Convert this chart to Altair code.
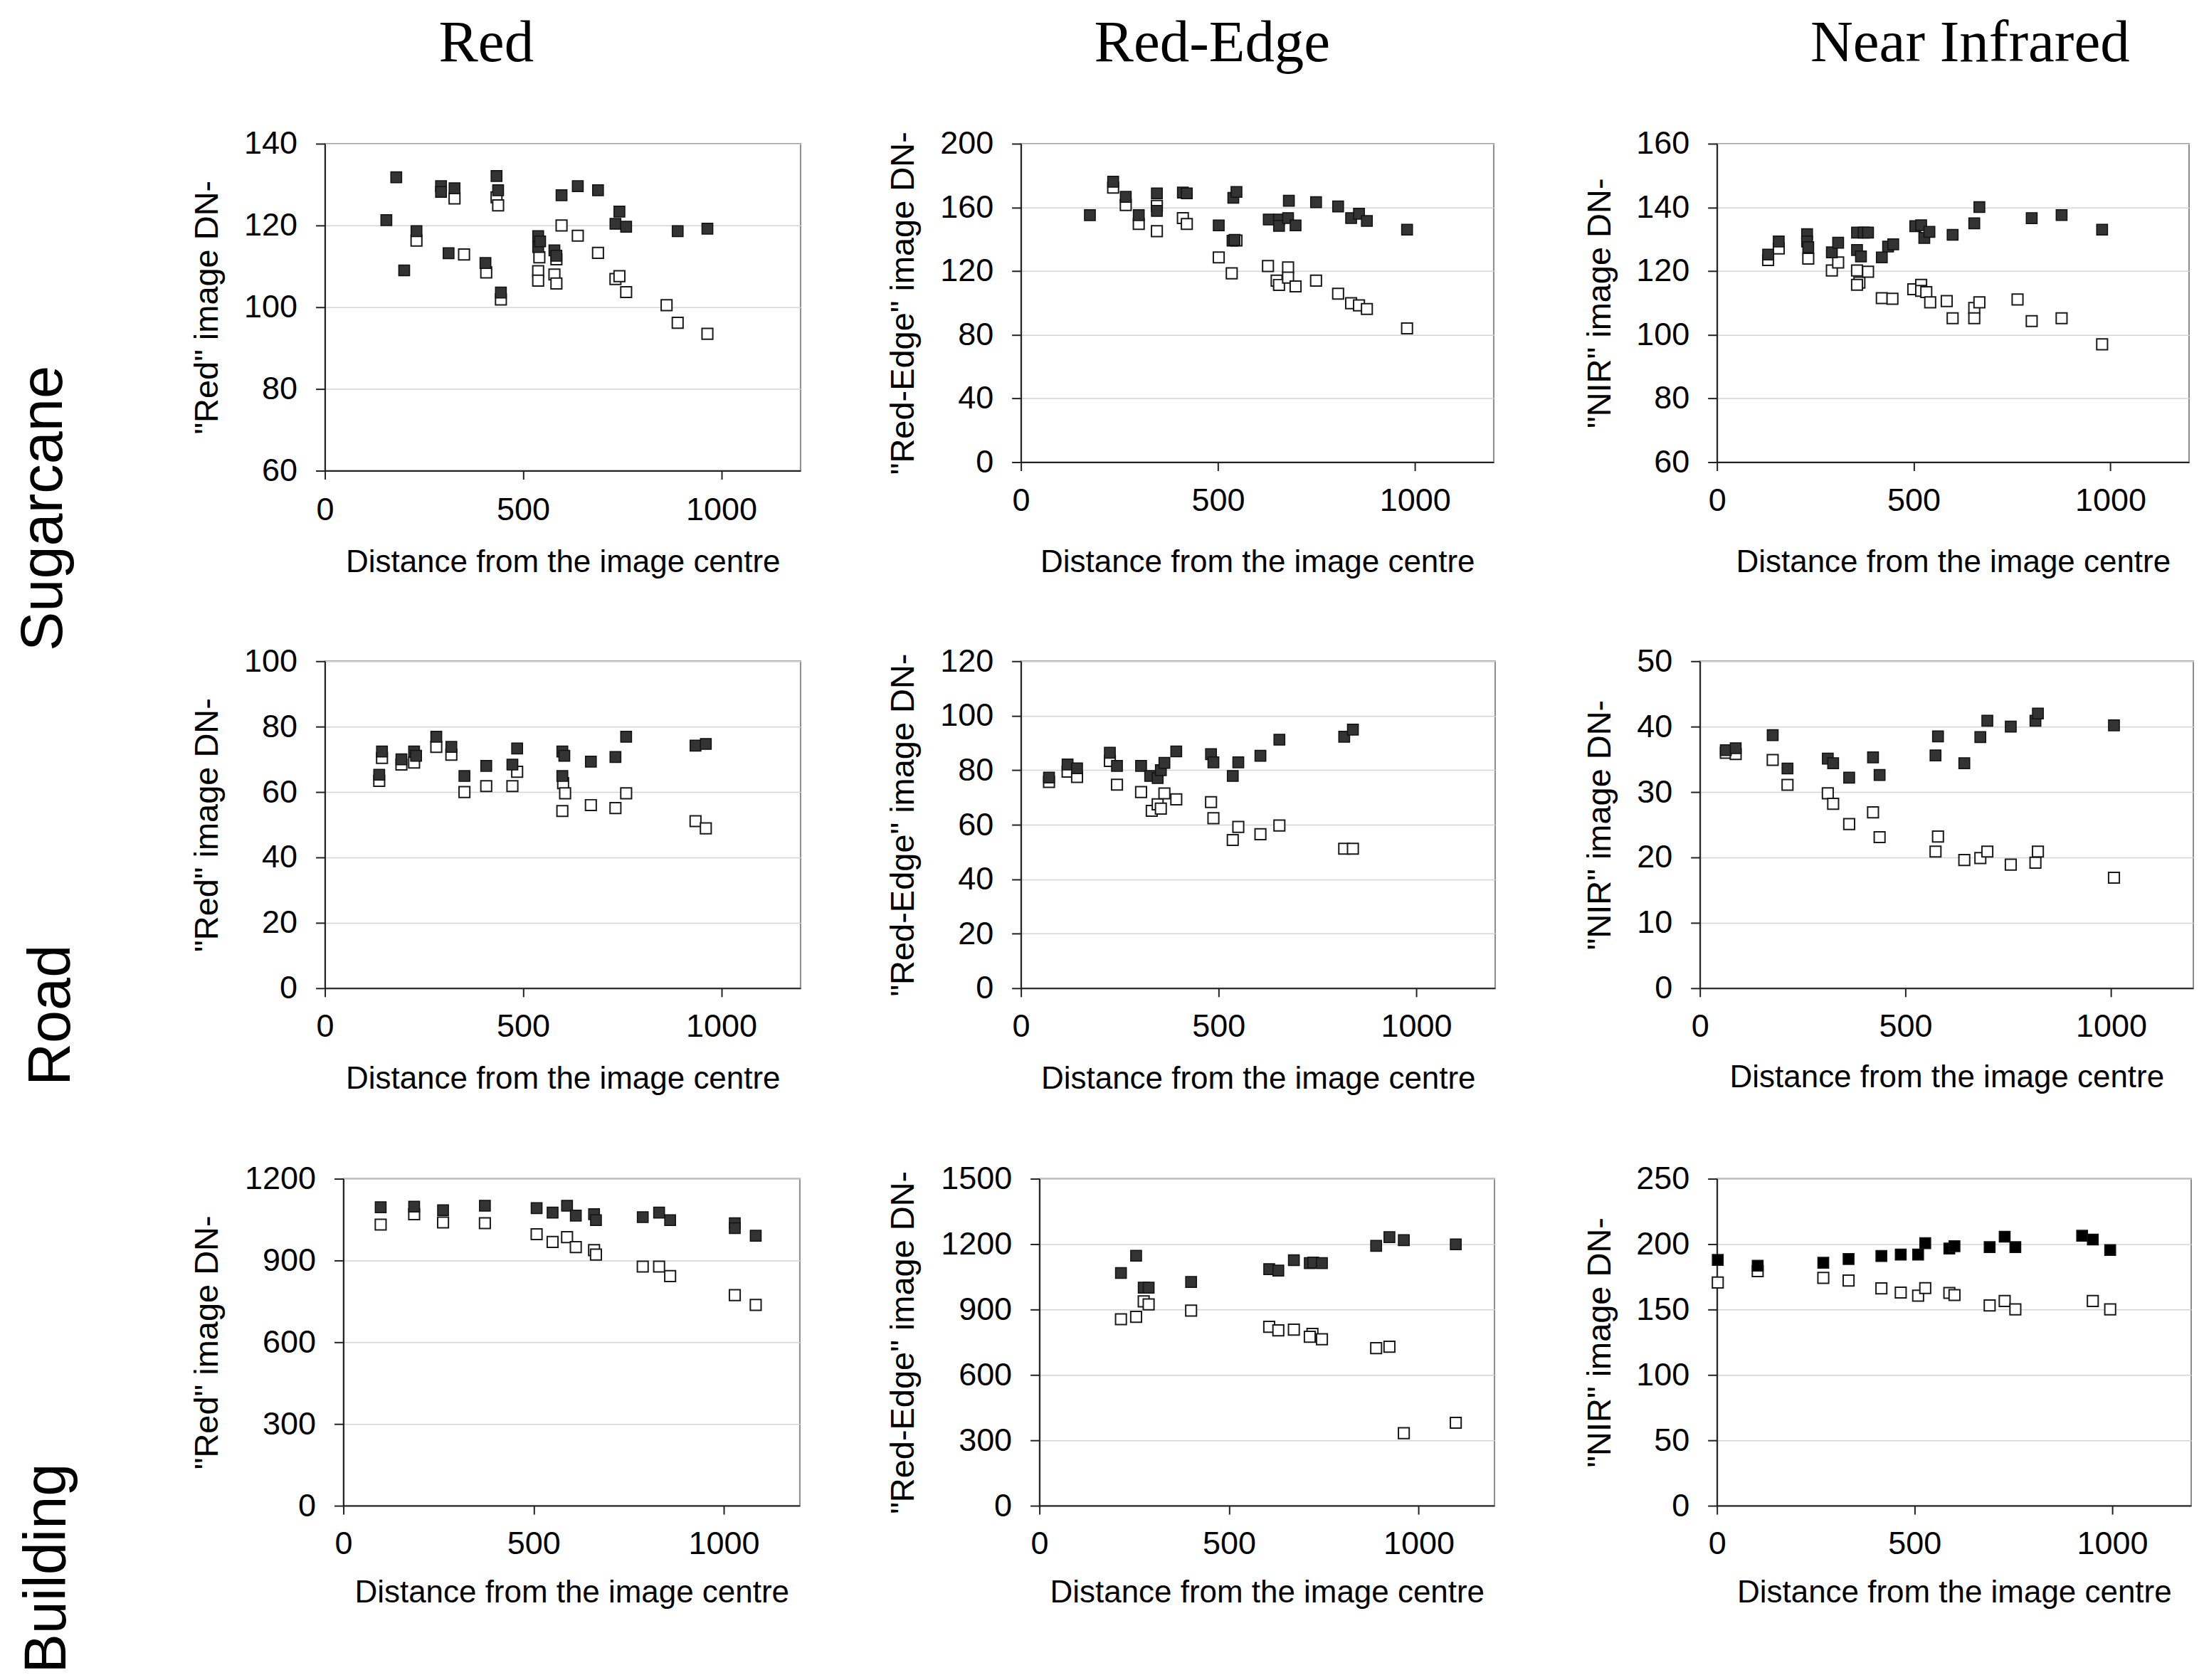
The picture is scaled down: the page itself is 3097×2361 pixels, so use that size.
import altair as alt
import pandas as pd

SANS = "Liberation Sans"
SERIF = "Liberation Serif"

COLUMN_TITLES = ["Red", "Red-Edge", "Near Infrared"]
ROW_TITLES = ["Sugarcane", "Road", "Building"]
Y_TITLES = ['"Red" image DN-', '"Red-Edge" image DN-', '"NIR" image DN-']
X_TITLE = "Distance from the image centre"
X_TICKS = [0, 500, 1000]

# ---------------- data: (distance, DN) ----------------
# filled squares = corrected DN, open squares = original DN
SC_RED_FILLED = [(155, 121.3), (180, 131.8), (200, 109.0), (231, 118.6), (293, 129.6), (293, 128.2),
                 (312, 113.2), (327, 129.1), (405, 110.8), (433, 132.1), (437, 128.6), (444, 103.6),
                 (538, 117.4), (538, 114.7), (543, 116.1), (579, 113.9), (584, 112.6), (597, 127.4),
                 (638, 129.6), (689, 128.6), (733, 120.4), (743, 123.4), (760, 119.7), (890, 118.6),
                 (965, 119.2)]
SC_RED_OPEN = [(231, 116.3), (327, 126.6), (351, 112.9), (407, 108.5), (433, 126.9), (437, 124.9),
               (444, 101.9), (538, 108.8), (538, 106.5), (541, 112.2), (579, 108.0), (584, 111.7),
               (584, 105.8), (597, 120.0), (638, 117.5), (689, 113.3), (733, 106.9), (743, 107.6),
               (760, 103.7), (862, 100.5), (890, 96.2), (965, 93.5)]

SC_RE_FILLED = [(175, 155.1), (234, 176.1), (266, 166.6), (299, 155.1), (345, 168.8), (345, 157.8),
                (411, 169.3), (421, 168.8), (502, 148.7), (537, 139.1), (542, 139.6), (539, 166.0),
                (547, 169.7), (629, 152.4), (655, 152.4), (655, 148.4), (678, 153.3), (680, 164.2),
                (697, 148.7), (749, 163.3), (805, 160.6), (838, 153.3), (858, 156.0), (878, 151.5),
                (980, 146.0)]
SC_RE_OPEN = [(234, 172.4), (266, 161.5), (299, 149.6), (345, 161.0), (345, 145.1), (411, 153.3),
              (421, 149.6), (502, 128.6), (535, 118.6), (547, 139.2), (627, 123.2), (649, 114.0),
              (655, 111.3), (678, 122.3), (678, 115.9), (697, 110.4), (749, 114.0), (805, 105.8),
              (838, 99.8), (858, 98.5), (878, 96.2), (980, 84.0)]

SC_NIR_FILLED = [(130, 125.2), (157, 129.3), (229, 131.6), (229, 129.3), (232, 127.5), (292, 125.9),
                 (308, 128.9), (356, 132.1), (373, 132.1), (384, 132.1), (356, 126.6), (366, 124.6),
                 (419, 124.3), (435, 127.7), (448, 128.4), (504, 134.1), (519, 134.4), (527, 130.4),
                 (540, 132.3), (599, 131.4), (654, 135.0), (667, 140.1), (800, 136.6), (876, 137.6),
                 (979, 133.0)]
SC_NIR_OPEN = [(130, 123.5), (157, 127.1), (232, 123.9), (292, 120.2), (308, 122.7), (356, 120.2),
               (362, 116.4), (356, 115.7), (384, 119.8), (419, 111.5), (446, 111.3), (499, 114.3),
               (519, 115.7), (519, 113.8), (532, 113.4), (542, 110.2), (584, 110.6), (599, 105.2),
               (654, 108.4), (654, 105.2), (667, 110.2), (764, 111.1), (800, 104.3), (876, 105.2),
               (979, 97.0)]

RD_RED_FILLED = [(137, 65.3), (144, 72.4), (193, 70.0), (225, 72.4), (230, 71.1), (281, 76.9),
                 (319, 73.8), (352, 64.9), (407, 68.0), (473, 68.4), (485, 73.3), (599, 72.4),
                 (604, 71.1), (599, 64.9), (671, 69.3), (733, 70.7), (760, 76.9), (935, 74.2),
                 (961, 74.7)]
RD_RED_OPEN = [(137, 63.4), (144, 70.4), (193, 68.4), (225, 69.0), (281, 73.8), (319, 71.4),
               (352, 60.0), (407, 61.8), (473, 61.8), (485, 66.2), (601, 62.7), (606, 59.6),
               (599, 54.2), (671, 56.0), (733, 55.1), (760, 59.6), (935, 51.1), (961, 48.9)]

RD_RE_FILLED = [(71, 77.3), (118, 82.1), (142, 80.7), (225, 86.4), (243, 81.6), (304, 81.6),
                (327, 77.9), (346, 77.1), (354, 80.0), (363, 82.7), (393, 86.9), (481, 85.9),
                (487, 82.9), (536, 77.9), (550, 82.9), (606, 85.3), (654, 91.2), (818, 92.3),
                (840, 94.9)]
RD_RE_OPEN = [(71, 75.7), (118, 79.5), (142, 77.5), (225, 83.4), (243, 74.7), (304, 72.0),
              (331, 65.1), (346, 67.5), (354, 65.9), (363, 71.5), (393, 69.3), (481, 68.3),
              (487, 62.4), (536, 54.4), (550, 59.2), (606, 56.5), (654, 59.7), (818, 51.2),
              (840, 51.2)]

RD_NIR_FILLED = [(63, 36.4), (87, 36.7), (177, 38.7), (213, 33.6), (311, 35.1), (324, 34.4),
                 (363, 32.2), (421, 35.3), (437, 32.6), (573, 35.6), (579, 38.5), (643, 34.4),
                 (682, 38.4), (699, 40.9), (756, 40.0), (816, 40.9), (822, 42.0), (1007, 40.2)]
RD_NIR_OPEN = [(63, 36.0), (87, 35.8), (177, 34.9), (213, 31.1), (311, 29.8), (324, 28.2),
               (363, 25.1), (421, 26.9), (437, 23.1), (573, 20.9), (579, 23.2), (643, 19.6),
               (682, 19.9), (699, 20.9), (756, 18.9), (816, 19.2), (822, 20.9), (1007, 16.9)]

BD_RED_FILLED = [(98, 1095.5), (186, 1097.7), (262, 1084.5), (372, 1101.0), (508, 1092.2),
                 (550, 1075.7), (588, 1101.0), (611, 1064.7), (659, 1070.0), (664, 1048.0),
                 (787, 1059.0), (830, 1075.7), (859, 1048.0), (1029, 1037.0), (1029, 1018.5),
                 (1084, 991.0)]
BD_RED_OPEN = [(98, 1031.7), (186, 1070.0), (262, 1039.4), (372, 1037.0), (508, 996.5),
               (550, 968.0), (588, 985.5), (611, 949.0), (659, 938.0), (664, 921.6),
               (787, 877.7), (830, 877.7), (859, 842.5), (1029, 773.0), (1084, 736.9)]

BD_RE_FILLED = [(215, 1067.5), (255, 1146.9), (275, 1000.5), (288, 1000.5), (400, 1026.5),
                (606, 1085.3), (630, 1078.5), (671, 1126.4), (713, 1112.7), (722, 1115.5),
                (745, 1112.7), (888, 1192.0), (923, 1232.0), (961, 1218.0), (1098, 1199.0)]
BD_RE_OPEN = [(215, 855.4), (255, 866.4), (275, 937.5), (288, 923.8), (400, 895.0),
              (606, 821.0), (630, 804.7), (671, 807.5), (720, 788.0), (713, 775.0),
              (745, 763.7), (888, 722.7), (923, 729.5), (961, 332.7), (1098, 380.5)]

BD_NIR_FILLED = [(2, 187.9), (103, 183.5), (269, 185.8), (333, 188.6), (416, 190.9), (465, 192.0),
                 (509, 192.0), (527, 200.7), (588, 196.6), (601, 198.4), (690, 197.7), (728, 205.7),
                 (755, 197.7), (924, 206.4), (951, 203.5), (995, 195.5)]
BD_NIR_OPEN = [(2, 170.7), (103, 179.4), (269, 174.2), (333, 172.2), (416, 166.2), (465, 163.0),
               (509, 160.6), (527, 166.4), (588, 162.7), (601, 161.1), (690, 153.1), (728, 156.5),
               (755, 150.1), (951, 156.5), (995, 150.1)]

# y-axis tick values per panel
Y_TICKS = [
    [[60, 80, 100, 120, 140], [0, 40, 80, 120, 160, 200], [60, 80, 100, 120, 140, 160]],
    [[0, 20, 40, 60, 80, 100], [0, 20, 40, 60, 80, 100, 120], [0, 10, 20, 30, 40, 50]],
    [[0, 300, 600, 900, 1200], [0, 300, 600, 900, 1200, 1500], [0, 50, 100, 150, 200, 250]],
]

DATA = [
    [(SC_RED_FILLED, SC_RED_OPEN), (SC_RE_FILLED, SC_RE_OPEN), (SC_NIR_FILLED, SC_NIR_OPEN)],
    [(RD_RED_FILLED, RD_RED_OPEN), (RD_RE_FILLED, RD_RE_OPEN), (RD_NIR_FILLED, RD_NIR_OPEN)],
    [(BD_RED_FILLED, BD_RED_OPEN), (BD_RE_FILLED, BD_RE_OPEN), (BD_NIR_FILLED, BD_NIR_OPEN)],
]

# ---------------- layout (pixels, chart coordinates) ----------------
LABEL_COL_W = 232
SPACER_W = 1
COL_BOUNDS = [233, 1192, 2172, 3074]        # panel cell edges, left to right
ROW_BOUNDS = [142, 872, 1592, 2342]         # panel cell edges, top to bottom

HEADER_X = [675, 1696, 2762]
HEADER_BASE = 76

LABEL_BX = [78, 89, 83]
LABEL_CY = [513, 1226, 2004]                # relative to the first row's plot top

# plot rectangles: (left, top, width, height)
PLOT = [
    [(444, 190, 669, 460), (1421, 190, 665, 448), (2398, 190, 664, 448)],
    [(444, 916, 669, 460), (1421, 916, 667, 460), (2374, 916, 694, 460)],
    [(470, 1642, 642, 460), (1447, 1642, 640, 460), (2398, 1642, 667, 460)],
]
TITLE_X = [[-151, -151, -150], [-151, -151, -126], [-177, -177, -150]]
TITLE_Y = [[142, 154, 154], [141, 141, 139], [136, 136, 136]]
XLAB_PAD = [[21, 20, 20], [20, 20, 20], [19, 19, 19]]
FILL = [["#333333"] * 3, ["#333333"] * 3, ["#333333", "#333333", "#000000"]]


def panel(filled, hollow, yticks, ytitle, rect, cell, tx, ty, xpad, fill):
    left, top, w, h = rect
    cl, ct, cr, cb = cell
    rows = [{"d": d, "v": v, "s": "filled"} for d, v in filled]
    rows += [{"d": d, "v": v, "s": "open"} for d, v in hollow]
    df = pd.DataFrame(rows)
    x = alt.X("d:Q",
              scale=alt.Scale(domain=[0, 1200], nice=False, zero=False),
              axis=alt.Axis(values=X_TICKS, title=X_TITLE, grid=False, tickSize=12,
                            labelPadding=xpad, titleY=ty, titleBaseline="alphabetic",
                            labelFlush=False, format="d", titleFontSize=44))
    y = alt.Y("v:Q",
              scale=alt.Scale(domain=[yticks[0], yticks[-1]], nice=False, zero=False),
              axis=alt.Axis(values=yticks, title=ytitle, grid=True, tickSize=13,
                            labelPadding=26, titleX=tx, titleBaseline="alphabetic",
                            titleAngle=270, format="d", titleFontSize=47))
    # invisible frame that fixes the cell's extent
    frame = alt.Chart(pd.DataFrame({"k": [0]})).mark_rect(opacity=0).encode(
        x=alt.value(cl - left), x2=alt.value(cr - left),
        y=alt.value(ct - top), y2=alt.value(cb - top))
    base = alt.Chart(df).encode(x=x, y=y)
    hollow_layer = base.transform_filter(alt.datum.s == "open").mark_square(
        size=230, filled=True, fill="white", stroke="#1a1a1a", strokeWidth=2, opacity=1)
    filled_layer = base.transform_filter(alt.datum.s == "filled").mark_square(
        size=230, filled=True, fill=fill, stroke="#111111", strokeWidth=1.5, opacity=1)
    return alt.layer(frame, hollow_layer, filled_layer).properties(
        width=w, height=h, view=alt.ViewBackground(stroke="#8c8c8c", strokeWidth=2))


def spacer(w, h):
    return alt.Chart(pd.DataFrame({"t": [""]})).mark_text().encode(
        text="t:N", x=alt.value(0), y=alt.value(0)).properties(width=w, height=h)


header = alt.layer(*[
    alt.Chart(pd.DataFrame({"t": [t]})).mark_text(
        font=SERIF, fontSize=83, align="center", baseline="alphabetic", color="black"
    ).encode(text="t:N", x=alt.value(cx), y=alt.value(HEADER_BASE))
    for t, cx in zip(COLUMN_TITLES, HEADER_X)
]).properties(width=COL_BOUNDS[-1], height=ROW_BOUNDS[0])

label_col = alt.layer(*[
    alt.Chart(pd.DataFrame({"t": [t]})).mark_text(
        font=SANS, fontSize=83, angle=270, align="center", baseline="alphabetic", color="black"
    ).encode(text="t:N", x=alt.value(bx), y=alt.value(cy))
    for t, bx, cy in zip(ROW_TITLES, LABEL_BX, LABEL_CY)
]).properties(width=LABEL_COL_W, height=ROW_BOUNDS[-1] - PLOT[0][0][1])

panel_rows = []
for r in range(3):
    top, bottom = ROW_BOUNDS[r], ROW_BOUNDS[r + 1]
    cells = [spacer(SPACER_W, 1)]
    for c in range(3):
        f, o = DATA[r][c]
        cell = (COL_BOUNDS[c], top, COL_BOUNDS[c + 1], bottom)
        cells.append(panel(f, o, Y_TICKS[r][c], Y_TITLES[c], PLOT[r][c], cell,
                           TITLE_X[r][c], TITLE_Y[r][c], XLAB_PAD[r][c], FILL[r][c]))
    panel_rows.append(alt.hconcat(*cells, spacing=0))

grid = alt.vconcat(*panel_rows, spacing=0)
body = alt.hconcat(label_col, grid, spacing=0)

chart = alt.vconcat(header, body, spacing=0, padding=0).configure_axis(
    labelFont=SANS, labelFontSize=45, labelColor="black",
    titleFont=SANS, titleFontWeight="normal", titleColor="black",
    domainColor="#222222", domainWidth=2, tickColor="#222222", tickWidth=2,
    gridColor="#d4d4d4", gridWidth=1.5, labelOverlap=False
).configure_view(stroke="transparent")

chart.save("out.html", embed_options={"renderer": "svg", "actions": False})
